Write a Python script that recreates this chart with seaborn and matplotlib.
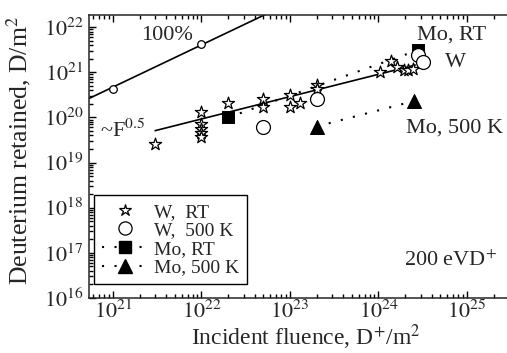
import numpy as np
import pandas as pd
import matplotlib
matplotlib.use("Agg")
import matplotlib.pyplot as plt
import seaborn as sns
from matplotlib.lines import Line2D
from matplotlib.ticker import LogLocator, NullFormatter, FuncFormatter

# ---------------- data ----------------
w_rt_x = [3e21, 1e22, 1e22, 1e22, 1e22, 1e22, 2e22, 5e22, 5e22, 1e23, 1e23, 1.3e23,
          2e23, 2e23, 1.05e24, 1.4e24, 1.6e24, 1.95e24, 2.15e24, 2.45e24]
w_rt_y = [2.6e19, 1.3e20, 7e19, 5.6e19, 4.5e19, 3.6e19, 2.1e20, 2.6e20, 1.7e20, 3.2e20,
          1.7e20, 2.1e20, 5.2e20, 4.3e20, 1.0e21, 1.75e21, 1.3e21, 1.1e21, 1.15e21, 1.2e21]

w_500_x = [5e22, 2e23, 2.8e24, 3.2e24]
w_500_y = [6.3e19, 2.5e20, 2.4e21, 1.7e21]

mo_rt_x = [2e22, 2.8e24]
mo_rt_y = [1.0e20, 3.1e21]

mo_500_x = [2e23, 2.5e24]
mo_500_y = [6.3e19, 2.3e20]

full_x = [1e21, 1e22]          # 100% retention points
full_y = [4.2e20, 4.2e21]
full_line_x = [5.37e20, 6.3e22]
full_line_y = [2.63e20, 2.26e22]

fit_x = [3e21, 2.6e24]         # ~F^0.5 line
fit_y = [5.1e19, 1.45e21]

xticks = [1e21, 1e22, 1e23, 1e24, 1e25]
yticks = [1e16, 1e17, 1e18, 1e19, 1e20, 1e21, 1e22]

# ---------------- style ----------------
sns.set_style("ticks")
plt.rcParams["font.family"] = ["Liberation Serif", "DejaVu Serif"]
plt.rcParams["mathtext.fontset"] = "stix"
plt.rcParams["axes.linewidth"] = 1.1

fig = plt.figure(figsize=(5.07, 3.53), dpi=100)
ax = fig.add_axes([89/507, 1-298/353, 428/507, 283/353])
ax.set_xscale("log")
ax.set_yscale("log")

dotted = (0, (1, 5))

# lines
sns.lineplot(x=full_line_x, y=full_line_y, ax=ax, color="black", lw=1.2, legend=False)
sns.lineplot(x=fit_x, y=fit_y, ax=ax, color="black", lw=1.2, legend=False)
sns.lineplot(x=mo_rt_x, y=mo_rt_y, ax=ax, color="black", lw=1.5, linestyle=dotted, legend=False)
sns.lineplot(x=mo_500_x, y=mo_500_y, ax=ax, color="black", lw=1.5, linestyle=dotted, legend=False)

# markers
sns.scatterplot(x=full_x, y=full_y, ax=ax, marker="o", s=30, facecolor="white",
                edgecolor="black", linewidth=0.9, zorder=5)
sns.scatterplot(x=w_rt_x, y=w_rt_y, ax=ax, marker="*", s=85, facecolor="white",
                edgecolor="black", linewidth=0.9, zorder=5)
sns.scatterplot(x=w_500_x, y=w_500_y, ax=ax, marker="o", s=100, facecolor="white",
                edgecolor="black", linewidth=0.9, zorder=5)
sns.scatterplot(x=mo_rt_x, y=mo_rt_y, ax=ax, marker="s", s=75, color="black",
                edgecolor="black", zorder=4)
sns.scatterplot(x=mo_500_x, y=mo_500_y, ax=ax, marker="^", s=100, color="black",
                edgecolor="black", zorder=4)

ax.set_xlim(10**20.73, 10**25.565)
ax.set_ylim(1e16, 10**22.27)

# ticks
ax.set_xticks(xticks)
ax.set_yticks(yticks)
fmt = FuncFormatter(lambda v, p: r"$10^{%d}$" % int(round(np.log10(v))))
ax.xaxis.set_major_formatter(fmt)
ax.yaxis.set_major_formatter(fmt)
ax.xaxis.set_minor_locator(LogLocator(base=10, subs=np.arange(2, 10), numticks=50))
ax.yaxis.set_minor_locator(LogLocator(base=10, subs=np.arange(2, 10), numticks=50))
ax.xaxis.set_minor_formatter(NullFormatter())
ax.yaxis.set_minor_formatter(NullFormatter())
ax.tick_params(which="both", direction="in", top=True, right=True, labelsize=16,
               width=1.0, color="black")
ax.tick_params(which="major", length=5)
ax.tick_params(which="minor", length=3)
ax.tick_params(axis="x", which="major", pad=2)
ax.tick_params(axis="y", which="major", pad=4)

ax.set_xlabel(r"Incident fluence, D$^{+}$/m$^{2}$", fontsize=17)
ax.set_ylabel(r"Deuterium retained, D/m$^{2}$", fontsize=18.5)
ax.xaxis.set_label_coords(0.506, -0.085)
ax.yaxis.set_label_coords(-0.13, 0.523)

# annotations
fs = 16
ax.text(10**21.61, 10**21.82, "100%", fontsize=fs, ha="center", va="center")
ax.text(10**21.37, 10**19.56, r"~F$^{0.5}$", fontsize=fs, ha="right", va="baseline")
ax.text(10**24.435, 10**21.73, "Mo, RT", fontsize=fs, ha="left", va="baseline")
ax.text(10**24.75, 10**21.12, "W", fontsize=fs, ha="left", va="baseline")
ax.text(10**24.31, 10**19.67, "Mo, 500 K", fontsize=fs, ha="left", va="baseline")
ax.text(10**24.29, 10**16.71, r"200 eVD$^{+}$", fontsize=fs, ha="left", va="baseline")

# legend
handles = [
    Line2D([], [], marker="*", ms=9, mfc="white", mec="black", mew=0.9, ls="none"),
    Line2D([], [], marker="o", ms=9.5, mfc="white", mec="black", mew=0.9, ls="none"),
    Line2D([], [], marker="s", ms=8, color="black", lw=1.5, ls=dotted),
    Line2D([], [], marker="^", ms=9.5, color="black", lw=1.5, ls=dotted),
]
labels = ["W,  RT", "W,  500 K", "Mo, RT", "Mo, 500 K"]
leg = ax.legend(handles, labels, loc="lower left", bbox_to_anchor=(0.012, 0.049),
                borderaxespad=0, fontsize=14, frameon=True, fancybox=False,
                edgecolor="black", handlelength=2.4, handletextpad=0.3,
                labelspacing=0.05, borderpad=0.4)
leg.get_frame().set_linewidth(1.0)
leg.get_frame().set_alpha(1)

fig.savefig("out.png", dpi=100)
